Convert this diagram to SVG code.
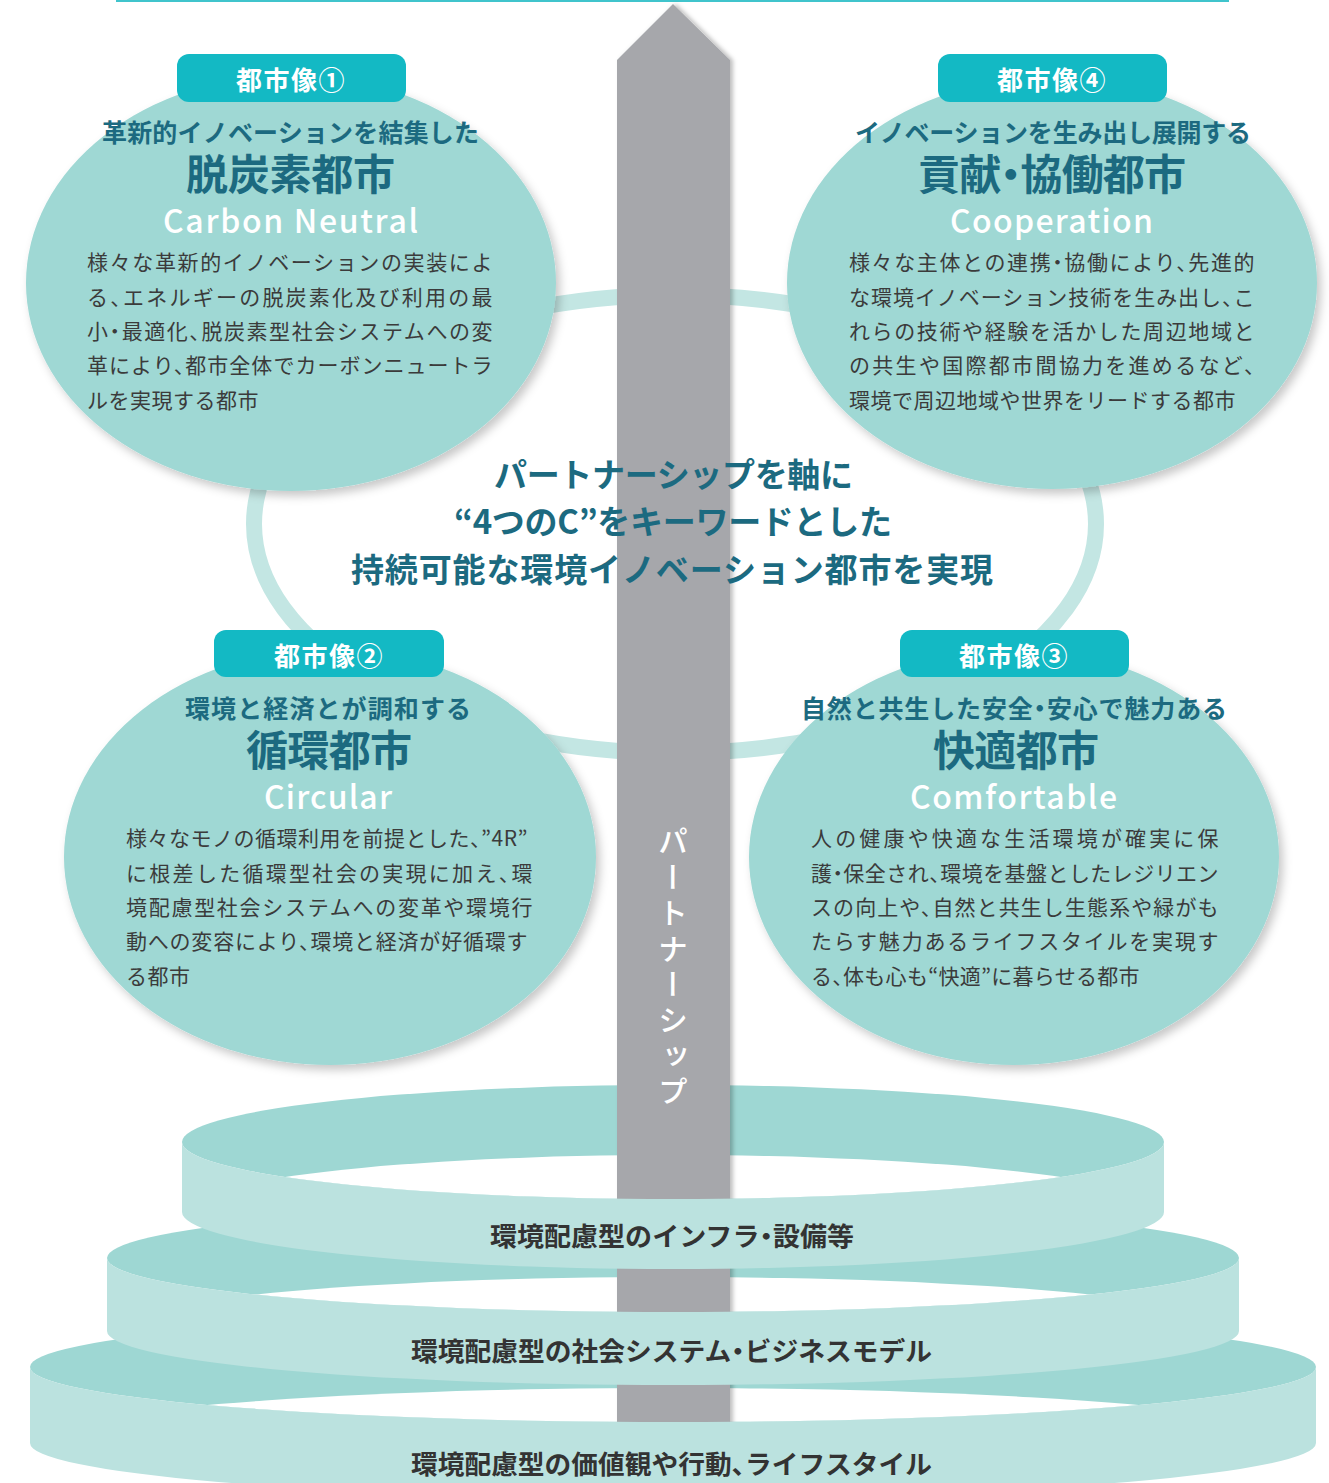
<svg xmlns="http://www.w3.org/2000/svg" width="1329" height="1483" viewBox="0 0 1329 1483">
<defs>
<filter id="sh" x="-10%" y="-10%" width="125%" height="130%">
<feDropShadow dx="4" dy="5" stdDeviation="5" flood-color="#000" flood-opacity="0.22"/>
</filter>
<filter id="psh" x="-20%" y="-5%" width="140%" height="110%">
<feDropShadow dx="3" dy="0" stdDeviation="2" flood-color="#000" flood-opacity="0.25"/>
</filter>
<clipPath id="h1"><ellipse cx="673" cy="1212" rx="491" ry="57"/></clipPath>
<clipPath id="h2"><ellipse cx="673" cy="1331" rx="566" ry="54"/></clipPath>
<clipPath id="h3"><ellipse cx="673" cy="1443" rx="643" ry="55"/></clipPath>
</defs>
<style>
text{font-family:"Noto Sans CJK JP","Noto Sans",sans-serif;}
.circ{fill:#9fd8d4;filter:url(#sh);}
.lab{fill:#13b9c4;}
.labt{fill:#fff;font-size:26px;font-weight:700;text-anchor:middle;letter-spacing:1.5px;}
.sub{fill:#1c6a80;font-size:25px;font-weight:700;font-feature-settings:"halt";}
.ttl{fill:#1c6a80;font-size:42px;font-weight:700;font-feature-settings:"halt";}
.en{fill:#fff;font-size:32px;font-weight:500;}
.body{fill:#3b3b3b;font-size:21px;letter-spacing:0.5px;font-feature-settings:"halt";}
.ctr{fill:#1c6a80;font-size:33px;font-weight:700;font-feature-settings:"halt";}
.rtop{fill:#9ed7d3;}
.rfront{fill:#bbe2df;}
.rt{fill:#333;font-size:26px;font-weight:700;font-feature-settings:"halt";}
</style>
<rect width="1329" height="1483" fill="#fff"/>
<line x1="116" y1="1" x2="1229" y2="1" stroke="#40c4cc" stroke-width="2"/>

<g id="connectors">
<ellipse cx="675" cy="524" rx="421" ry="229" fill="none" stroke="#c3e6e3" stroke-width="16"/>
</g>

<g id="ring3-back">
<ellipse class="rtop" cx="673" cy="1367" rx="643" ry="55"/>
<ellipse cx="673" cy="1367" rx="643" ry="55" fill="#fff" clip-path="url(#h3)"/>
</g>
<g id="ring2-back">
<ellipse class="rtop" cx="673" cy="1258" rx="566" ry="54"/>
<ellipse cx="673" cy="1258" rx="566" ry="54" fill="#fff" clip-path="url(#h2)"/>
</g>
<g id="ring1-back">
<ellipse class="rtop" cx="673" cy="1142" rx="491" ry="57"/>
<ellipse cx="673" cy="1142" rx="491" ry="57" fill="#fff" clip-path="url(#h1)"/>
</g>

<g id="pillar">
<polygon points="673,4 730,60 730,1430 617,1430 617,60" fill="#a6a7ab" filter="url(#psh)"/>
<text x="673" y="826" writing-mode="tb" fill="#fff" font-size="30" font-weight="500" textLength="280" lengthAdjust="spacing">パートナーシップ</text>
</g>

<g id="ring3">
<path class="rfront" d="M30,1367 A643,55 0 0 0 1316,1367 L1316,1443 A643,55 0 0 1 30,1443 Z"/>
<text class="rt" x="411" y="1474" textLength="521" lengthAdjust="spacingAndGlyphs">環境配慮型の価値観や行動、ライフスタイル</text>
</g>
<g id="ring2">
<path class="rfront" d="M107,1258 A566,54 0 0 0 1239,1258 L1239,1331 A566,54 0 0 1 107,1331 Z"/>
<text class="rt" x="411" y="1361" textLength="521" lengthAdjust="spacingAndGlyphs">環境配慮型の社会システム・ビジネスモデル</text>
</g>
<g id="ring1">
<path class="rfront" d="M182,1142 A491,57 0 0 0 1164,1142 L1164,1212 A491,57 0 0 1 182,1212 Z"/>
<text class="rt" x="490" y="1246" textLength="364" lengthAdjust="spacingAndGlyphs">環境配慮型のインフラ・設備等</text>
</g>

<g id="center-text">
<text class="ctr" x="494" y="487" textLength="359">パートナーシップを軸に</text>
<text class="ctr" x="454" y="534" textLength="438">“4つのC”をキーワードとした</text>
<text class="ctr" x="351" y="582" textLength="642">持続可能な環境イノベーション都市を実現</text>
</g>

<g id="city1">
<ellipse class="circ" cx="291" cy="283" rx="265" ry="208"/>
<rect class="lab" x="177" y="54" width="229" height="48" rx="12"/>
<text class="labt" x="291" y="90">都市像①</text>
<text class="sub" x="102" y="142" textLength="377">革新的イノベーションを結集した</text>
<text class="ttl" x="186" y="190" textLength="209">脱炭素都市</text>
<text class="en" x="163" y="233" textLength="255">Carbon Neutral</text>
<text class="body" x="87" y="270" textLength="406">様々な革新的イノベーションの実装によ</text>
<text class="body" x="87" y="305" textLength="406">る、エネルギーの脱炭素化及び利用の最</text>
<text class="body" x="87" y="339" textLength="406">小・最適化、脱炭素型社会システムへの変</text>
<text class="body" x="87" y="373" textLength="406">革により、都市全体でカーボンニュートラ</text>
<text class="body" x="87" y="408">ルを実現する都市</text>
</g>

<g id="city4">
<ellipse class="circ" cx="1052" cy="283" rx="265" ry="206"/>
<rect class="lab" x="938" y="54" width="229" height="48" rx="12"/>
<text class="labt" x="1052" y="90">都市像④</text>
<text class="sub" x="855" y="142" textLength="396">イノベーションを生み出し展開する</text>
<text class="ttl" x="918" y="190" textLength="268">貢献・協働都市</text>
<text class="en" x="950" y="233" textLength="203">Cooperation</text>
<text class="body" x="849" y="270" textLength="406">様々な主体との連携・協働により、先進的</text>
<text class="body" x="849" y="305" textLength="406">な環境イノベーション技術を生み出し、こ</text>
<text class="body" x="849" y="339" textLength="406">れらの技術や経験を活かした周辺地域と</text>
<text class="body" x="849" y="373" textLength="406">の共生や国際都市間協力を進めるなど、</text>
<text class="body" x="849" y="408">環境で周辺地域や世界をリードする都市</text>
</g>

<g id="city2">
<ellipse class="circ" cx="330" cy="857" rx="266" ry="208"/>
<rect class="lab" x="214" y="630" width="230" height="47" rx="12"/>
<text class="labt" x="329" y="666">都市像②</text>
<text class="sub" x="185" y="718" textLength="286">環境と経済とが調和する</text>
<text class="ttl" x="246" y="766" textLength="166">循環都市</text>
<text class="en" x="264" y="809" textLength="128">Circular</text>
<text class="body" x="126" y="846" textLength="402">様々なモノの循環利用を前提とした、”4R”</text>
<text class="body" x="126" y="881" textLength="407">に根差した循環型社会の実現に加え、環</text>
<text class="body" x="126" y="915" textLength="407">境配慮型社会システムへの変革や環境行</text>
<text class="body" x="126" y="949" textLength="402">動への変容により、環境と経済が好循環す</text>
<text class="body" x="126" y="984">る都市</text>
</g>

<g id="city3">
<ellipse class="circ" cx="1014" cy="857" rx="265" ry="208"/>
<rect class="lab" x="900" y="630" width="229" height="47" rx="12"/>
<text class="labt" x="1014" y="666">都市像③</text>
<text class="sub" x="801" y="718" textLength="426">自然と共生した安全・安心で魅力ある</text>
<text class="ttl" x="933" y="766" textLength="166">快適都市</text>
<text class="en" x="910" y="809" textLength="207">Comfortable</text>
<text class="body" x="811" y="846" textLength="408">人の健康や快適な生活環境が確実に保</text>
<text class="body" x="811" y="881" textLength="408">護・保全され、環境を基盤としたレジリエン</text>
<text class="body" x="811" y="915" textLength="408">スの向上や、自然と共生し生態系や緑がも</text>
<text class="body" x="811" y="949" textLength="408">たらす魅力あるライフスタイルを実現す</text>
<text class="body" x="811" y="984" textLength="329">る、体も心も“快適”に暮らせる都市</text>
</g>
</svg>
